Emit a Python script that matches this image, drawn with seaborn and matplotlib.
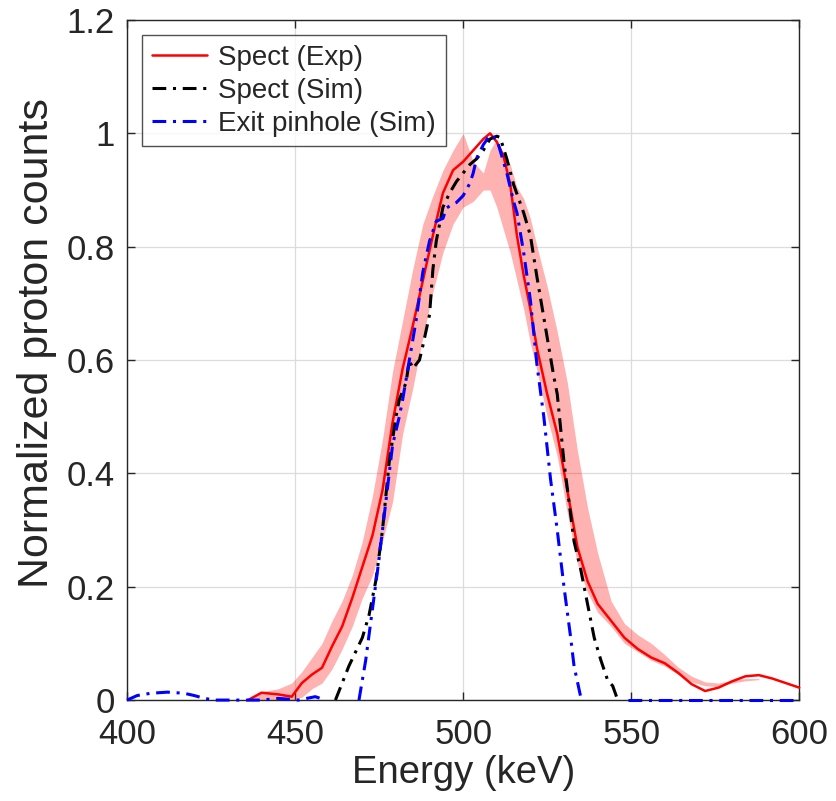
import numpy as np
import pandas as pd
import matplotlib
matplotlib.use("Agg")
import matplotlib.pyplot as plt
import seaborn as sns

# --- data ---
# measured spectrum (red)
e_exp = [436, 440, 445, 449, 452, 455, 458, 461, 464, 467, 470, 473, 476, 479,
         482, 485, 488, 491, 494, 497, 500, 503, 506, 508, 510, 512, 514, 516,
         518, 520, 522, 525, 528, 531, 534, 537, 540, 544, 548, 552, 556, 560,
         564, 568, 572, 576, 580, 584, 588, 592, 596, 600]
y_exp = [0.0, 0.013, 0.01, 0.006, 0.03, 0.045, 0.057, 0.095, 0.13, 0.18, 0.235, 0.29,
         0.37, 0.49, 0.585, 0.66, 0.74, 0.82, 0.895, 0.935, 0.95, 0.97, 0.99, 1.0,
         0.985, 0.96, 0.91, 0.82, 0.75, 0.69, 0.62, 0.54, 0.47, 0.37, 0.27, 0.21,
         0.17, 0.14, 0.11, 0.09, 0.075, 0.065, 0.048, 0.028, 0.016, 0.022, 0.033,
         0.042, 0.044, 0.038, 0.03, 0.022]

# shaded uncertainty band of the measurement
e_band = [436, 440, 445, 449, 452, 455, 458, 461, 464, 467, 470, 473, 476, 479,
          482, 485, 488, 491, 494, 497, 500, 503, 506, 508, 510, 512, 514, 516,
          518, 520, 522, 525, 528, 531, 534, 537, 540, 544, 548, 552, 556, 560,
          564, 568, 572, 576, 580, 584, 588]
band_lo = [0.0, 0.0, 0.0, 0.0, 0.005, 0.02, 0.03, 0.055, 0.09, 0.13, 0.18, 0.22,
           0.28, 0.35, 0.47, 0.55, 0.64, 0.72, 0.79, 0.84, 0.87, 0.88, 0.9, 0.9,
           0.87, 0.83, 0.79, 0.74, 0.69, 0.63, 0.58, 0.5, 0.43, 0.33, 0.24, 0.19,
           0.155, 0.13, 0.1, 0.085, 0.07, 0.06, 0.045, 0.032, 0.025, 0.024, 0.03,
           0.034, 0.036]
band_hi = [0.0, 0.015, 0.02, 0.03, 0.05, 0.075, 0.1, 0.14, 0.175, 0.22, 0.28, 0.36,
           0.46, 0.58, 0.67, 0.76, 0.84, 0.89, 0.935, 0.97, 1.0, 0.95, 0.93, 0.97,
           0.99, 0.965, 0.945, 0.905, 0.885, 0.85, 0.8, 0.73, 0.65, 0.56, 0.44,
           0.34, 0.26, 0.175, 0.135, 0.115, 0.1, 0.08, 0.058, 0.042, 0.032, 0.03,
           0.035, 0.038, 0.038]

# simulated spectrum (black)
e_sim = [462, 464, 466, 468, 470, 472, 474, 476, 478, 480, 481, 483, 484, 485,
         487, 488, 490, 491, 492, 494, 496, 498, 500, 502, 504, 506, 508, 510,
         511, 513, 515, 518, 520, 522, 525, 527, 528, 530, 533, 535, 537, 539,
         541, 543, 544.5, 546]
y_sim = [0.0, 0.03, 0.06, 0.085, 0.11, 0.15, 0.21, 0.3, 0.42, 0.5, 0.53, 0.56, 0.6,
         0.585, 0.6, 0.625, 0.68, 0.76, 0.81, 0.87, 0.895, 0.915, 0.93, 0.945,
         0.955, 0.97, 0.99, 0.995, 0.993, 0.955, 0.91, 0.86, 0.82, 0.745, 0.64,
         0.57, 0.54, 0.42, 0.28, 0.23, 0.17, 0.11, 0.07, 0.035, 0.025, 0.0]

# simulated exit pinhole (blue), segments split where the trace is hidden
e_pin = [400, 403, 407, 412, 417, 420, 423, 426, 430, 435, 440, 445, 451, 456, 459,
         469, 471, 473, 475, 477, 479, 481, 482, 484, 486, 488, 490, 492, 494,
         495, 496, 498, 500, 502, 503, 504, 506, 508, 510, 512, 513, 515, 516,
         518, 520, 522, 524, 526, 528, 530, 532, 533, 535,
         549, 560, 570, 580, 590, 600]
y_pin = [0.0, 0.008, 0.012, 0.014, 0.012, 0.008, 0.003, 0.0, 0.0, 0.0, 0.0, 0.003,
         0.0, 0.006, 0.0,
         0.0, 0.07, 0.16, 0.25, 0.35, 0.45, 0.5, 0.53, 0.6, 0.67, 0.755, 0.81, 0.845,
         0.85, 0.868, 0.872, 0.878, 0.89, 0.912, 0.93, 0.956, 0.98, 0.997, 0.99,
         0.95, 0.93, 0.88, 0.86, 0.79, 0.706, 0.59, 0.5, 0.39, 0.3, 0.2, 0.11,
         0.06, 0.005,
         0.0, 0.0, 0.0, 0.0, 0.0, 0.0]
seg_pin = [0] * 15 + [1] * 38 + [2] * 6

labels = ["Spect (Exp)", "Spect (Sim)", "Exit pinhole (Sim)"]
x_ticks = [400, 450, 500, 550, 600]
y_ticks = [0, 0.2, 0.4, 0.6, 0.8, 1.0, 1.2]
y_ticklabels = ["0", "0.2", "0.4", "0.6", "0.8", "1", "1.2"]

df_exp = pd.DataFrame({"E": e_exp, "y": y_exp})
df_sim = pd.DataFrame({"E": e_sim, "y": y_sim})
df_pin = pd.DataFrame({"E": e_pin, "y": y_pin, "seg": seg_pin})

sns.set_style("ticks")
plt.rcParams["font.family"] = ["Liberation Sans", "DejaVu Sans"]

fig, ax = plt.subplots(figsize=(8.36, 8.01), dpi=100)
fig.subplots_adjust(left=0.152, right=0.956, bottom=0.126, top=0.975)

ax.fill_between(e_band, band_lo, band_hi, color="red", alpha=0.3, lw=0, zorder=1)

dashdot = (0, (4.5, 2.2, 1, 2.2))
sns.lineplot(data=df_exp, x="E", y="y", color="red", lw=1.8, ax=ax,
             label=labels[0], zorder=3, clip_on=False)
sns.lineplot(data=df_sim, x="E", y="y", color="black", lw=2.2, ax=ax,
             linestyle=dashdot, label=labels[1], zorder=4, clip_on=False)
sns.lineplot(data=df_pin, x="E", y="y", units="seg", estimator=None, color="blue",
             lw=2.2, ax=ax, linestyle=dashdot, zorder=5, clip_on=False)

pin_lines = [ln for ln in ax.get_lines() if ln.get_color() == "blue"]
pin_lines[0].set_label(labels[2])

ax.set_xlim(400, 600)
ax.set_ylim(0, 1.2)
ax.set_xticks(x_ticks)
ax.set_yticks(y_ticks)
ax.set_yticklabels(y_ticklabels)
ax.grid(True, color="#dcdcdc", lw=0.9)
ax.set_axisbelow(True)
for s in ax.spines.values():
    s.set_visible(True)
    s.set_color("#262626")
    s.set_linewidth(1.0)
ax.tick_params(direction="in", length=6, width=1, top=True, right=True,
               labelsize=25, colors="#262626", pad=9)
ax.tick_params(axis="x", pad=13)
ax.set_xlabel("Energy (keV)", fontsize=27.5, color="#262626", labelpad=3)
ax.set_ylabel("Normalized proton counts", fontsize=31, color="#262626", labelpad=5)
ax.yaxis.set_label_coords(-0.104, 0.525)

handles, labs = ax.get_legend_handles_labels()
keep = [(h, l) for h, l in zip(handles, labs) if l in labels]
leg = ax.legend([h for h, _ in keep], [l for _, l in keep], loc="upper left",
                fontsize=20, frameon=True, fancybox=False, edgecolor="#262626",
                handlelength=2.0, handletextpad=0.4, labelspacing=0.25,
                borderpad=0.35, bbox_to_anchor=(0.022, 0.978), borderaxespad=0)
leg.get_frame().set_linewidth(1.0)

fig.savefig("out.png", dpi=100)
